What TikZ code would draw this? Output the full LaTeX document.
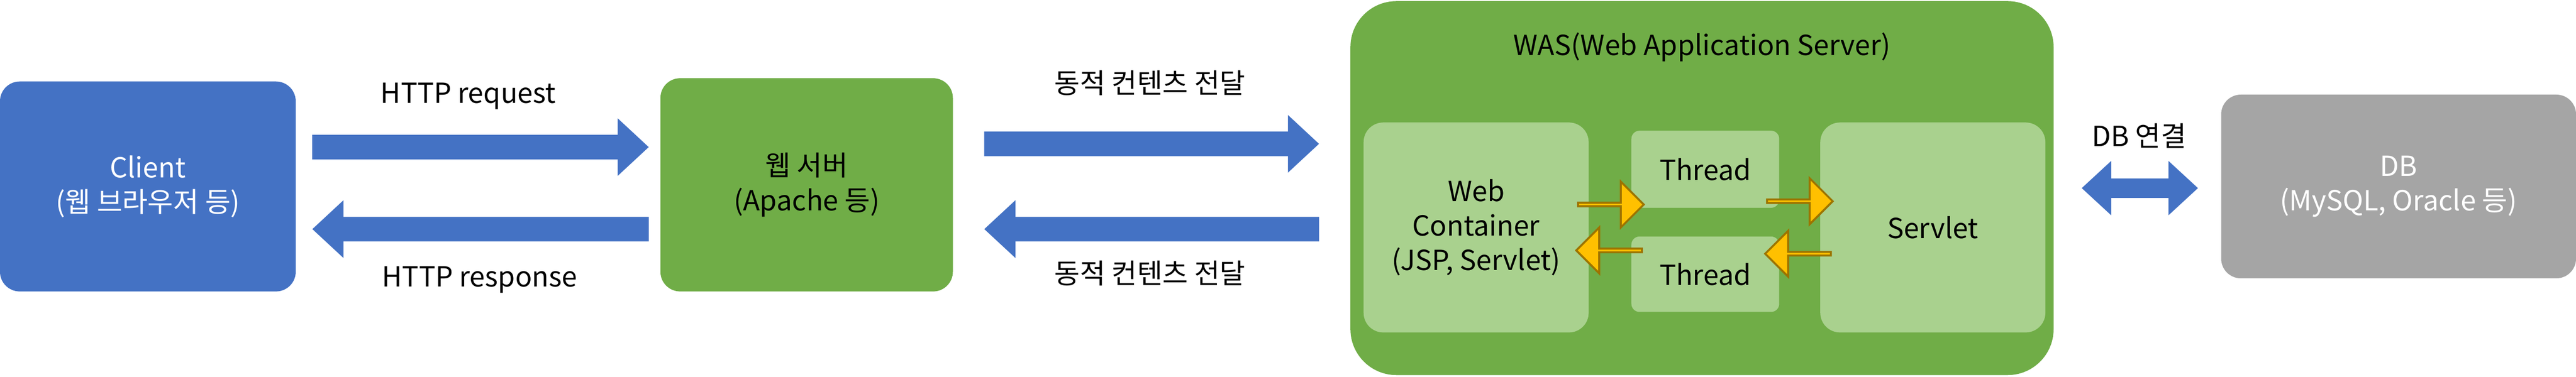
\documentclass[tikz,border=0pt]{standalone}
\usepackage{fontspec}
\setmainfont{Noto Sans CJK KR}
\usetikzlibrary{arrows.meta, positioning, shapes.arrows, calc}
\definecolor{wblue}{HTML}{4472C4}
\definecolor{wgreen}{HTML}{70AD47}
\definecolor{wlight}{HTML}{A9D18E}
\definecolor{wgray}{HTML}{A5A5A5}
\definecolor{worange}{HTML}{FFC000}
\definecolor{wedge}{HTML}{9C7400}

\begin{document}
\begin{tikzpicture}[
        x=1mm, y=1mm,
        font=\fontsize{48}{60}\selectfont,
        box/.style={rounded corners=12mm, align=center, inner sep=0pt},
        blockarrow/.style={wblue, line width=15mm,
            -{Triangle[width=34mm,length=19mm]}},
        dblarrow/.style={wblue, line width=12mm,
            {Triangle[width=32mm,length=18mm]}-{Triangle[width=32mm,length=18mm]}},
        orangearrow/.style={single arrow, fill=worange, draw=wedge, line width=1.2mm,
            minimum width=28mm, minimum height=40mm, single arrow head extend=7mm,
            inner sep=0pt, single arrow tip angle=90}]

    \useasboundingbox (0,0) rectangle (1568,229.7);

    \node [box, fill=wblue, text=white, minimum width=180mm, minimum height=128mm]
          (client) at (90,116) {Client\\(웹 브라우저 등)};
    \node [box, fill=wgreen, minimum width=178mm, minimum height=130mm]
          (web) at (491,117) {웹 서버\\(Apache 등)};
    \node [box, fill=wgreen, rounded corners=28mm, minimum width=428mm, minimum height=228mm]
          (was) at (1036,115) {};
    \node (wastitle) at (1036,201) {WAS(Web Application Server)};
    \node [box, fill=wlight, minimum width=137mm, minimum height=128mm]
          (webcont) at (898.5,91) {Web\\Container\\(JSP, Servlet)};
    \node [box, fill=wlight, rounded corners=5mm, minimum width=90mm, minimum height=47mm]
          (thread1) at (1038,126.5) {Thread};
    \node [box, fill=wlight, rounded corners=5mm, minimum width=90mm, minimum height=46mm]
          (thread2) at (1038,62.5) {Thread};
    \node [box, fill=wlight, minimum width=137mm, minimum height=128mm]
          (servlet) at (1176.5,91) {Servlet};
    \node [box, fill=wgray, text=white, minimum width=216mm, minimum height=112mm]
          (db) at (1460,116) {DB\\(MySQL, Oracle 등)};

    % labels
    \node (req)  at (285,171) {HTTP request};
    \node (resp) at (292,59)  {HTTP response};
    \node (dyn1) at (700,179) {동적 컨텐츠 전달};
    \node (dyn2) at (700,63)  {동적 컨텐츠 전달};
    \node (dbc)  at (1302,147) {DB 연결};

    % blue connectors
    \draw [blockarrow] ([xshift=10mm,yshift=24mm]client.east) -- ([xshift=-7mm,yshift=23mm]web.west);
    \draw [blockarrow] ([xshift=-7mm,yshift=-27mm]web.west) -- ([xshift=10mm,yshift=-26mm]client.east);
    \draw [blockarrow] ([xshift=19mm,yshift=25mm]web.east) -- ([xshift=-19mm,yshift=27mm]was.west);
    \draw [blockarrow] ([xshift=-19mm,yshift=-25mm]was.west) -- ([xshift=19mm,yshift=-27mm]web.east);
    \draw [dblarrow] ([xshift=17mm]was.east) -- ([xshift=-14mm,yshift=-1mm]db.west);

    % orange arrows
    \node [orangearrow] (o1) at (980,105) {};
    \node [orangearrow, shape border rotate=180] (o2) at (980,77) {};
    \node [orangearrow] (o3) at (1095,107) {};
    \node [orangearrow, shape border rotate=180] (o4) at (1095,75) {};
\end{tikzpicture}
\end{document}
